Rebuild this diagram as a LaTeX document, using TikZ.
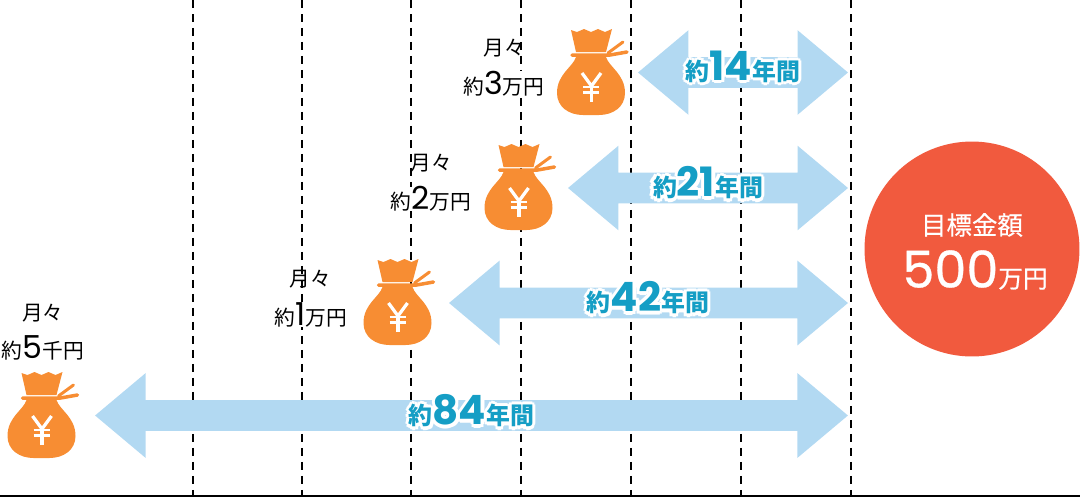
\documentclass[tikz,border=0pt]{standalone}
\usepackage{fontspec}
\setmainfont{Noto Sans CJK JP}
\newfontfamily\digitfont{Poppins}
\newfontfamily\heavydigit[FakeBold=0.6]{Poppins}
\newfontfamily\heavycjk[FakeBold=0.5]{Noto Sans CJK JP}
\usepackage{xcolor}
\usepackage{tikz}
\usetikzlibrary{arrows.meta, positioning, calc, shapes.arrows}
\definecolor{skyarrow}{HTML}{B2D9F2}
\definecolor{tealtext}{HTML}{159EC5}
\definecolor{bagorange}{HTML}{F78D33}
\definecolor{goalred}{HTML}{F15A3E}
\newcommand{\fsz}[1]{\fontsize{#1}{#1}\selectfont}
\newcommand{\halotext}[1]{\leavevmode\foreach \hx/\hy in {-1.8/0,1.8/0,0/-1.8,0/1.8,-1.3/-1.3,1.3/-1.3,-1.3/1.3,1.3/1.3}{\rlap{\hspace{\hx pt}\raisebox{\hy pt}{\color{white}#1}}}#1}
\newcommand{\spanlabel}[1]{\halotext{\bfseries\fsz{13.6}約{\digitfont\fsz{23}#1}年間}}
\newcommand{\paylabel}[2]{\fsz{11.8}約{\digitfont\fsz{18}#1}#2円}
\tikzset{
  moneybag/.pic={
    \fill[bagorange] (-20,-42) -- (-14,-40) -- (-7,-43) -- (0,-40) -- (7,-43) -- (14,-40) -- (21,-43) -- (15,-20) -- (-15,-20) -- cycle;
    \fill[bagorange] (-15,-15) -- (15,-15) .. controls (18,-5) and (34,2) .. (34,21) .. controls (34,35) and (22,43) .. (8,43) -- (-8,43) .. controls (-22,43) and (-34,35) .. (-34,21) .. controls (-34,2) and (-18,-5) .. (-15,-15) -- cycle;
    \draw[bagorange, line width=0.07cm, line cap=round] (-19,-17) -- (19,-17) -- (36,-20);
    \draw[bagorange, line width=0.06cm, line cap=round] (17,-19) -- (32,-30);
    \draw[white, line width=0.065cm] (-9,1) -- (0.5,14) -- (10,1);
    \draw[white, line width=0.065cm] (0.5,14) -- (0.5,30);
    \draw[white, line width=0.055cm] (-8,15) -- (8,15);
    \draw[white, line width=0.055cm] (-8,20.5) -- (8,20.5);
  }
}
\begin{document}
\begin{tikzpicture}[x=0.02cm, y=-0.02cm,
    spanarrow/.style={shape=double arrow, fill=skyarrow, inner xsep=0pt, inner ysep=0.3cm, minimum width=1.68cm, double arrow head extend=0.54cm, double arrow tip angle=80},
    spantext/.style={inner sep=0pt, text=tealtext},
    paytext/.style={inner sep=0pt, fill=white},
    monthtext/.style={inner sep=0pt, font=\fsz{11.8}}]
  \useasboundingbox (0,0) rectangle (1080,501);
  % year grid
  \foreach \gx in {193,302,411,521,631,741,851}
    \draw[black, line width=0.035cm, dash pattern=on 0.16cm off 0.12cm] (\gx,0) -- (\gx,496);
  \draw[black, line width=0.03cm] (0,496) -- (1080,496);
  % saving spans
  \node[spanarrow, minimum height=4.2cm] (spanA) at (743,72.5) {};
  \node[spanarrow, minimum height=5.6cm] (spanB) at (708,188) {};
  \node[spanarrow, minimum height=7.98cm] (spanC) at (648.5,303) {};
  \node[spanarrow, minimum height=15.06cm] (spanD) at (471.5,415.5) {};
  \node[spantext] (yearsA) at (743,67) {\spanlabel{14}};
  \node[spantext] (yearsB) at (708,183) {\spanlabel{21}};
  \node[spantext] (yearsC) at (648,298) {\spanlabel{42}};
  \node[spantext] (yearsD) at (471.5,411) {\spanlabel{84}};
  % bags
  \pic at (591,72) {moneybag};
  \pic at (518.5,187) {moneybag};
  \pic at (397.5,302) {moneybag};
  \pic at (41.5,415) {moneybag};
  % monthly amounts
  \node[monthtext] (monthA) at (504.5,48) {月々};
  \node[paytext] (payA) at (504,84) {\paylabel{3}{万}};
  \node[monthtext] (monthB) at (431.5,163) {月々};
  \node[paytext] (payB) at (431,199) {\paylabel{2}{万}};
  \node[monthtext] (monthC) at (310.5,279) {月々};
  \node[paytext] (payC) at (311,315) {\paylabel{1}{万}};
  \node[monthtext] (monthD) at (43,313) {月々};
  \node[paytext] (payD) at (43,348) {\paylabel{5}{千}};
  % goal
  \node[circle, fill=goalred, inner sep=0pt, minimum size=4.3cm] (goal) at (972,249) {};
  \node[inner sep=0pt, text=white, font=\fsz{14.5}\heavycjk] (goaltitle) at (972,225) {目標金額};
  \node[inner sep=0pt, text=white, font=\fsz{14}\heavycjk] (goalvalue) at (975,270) {{\heavydigit\fsz{29}500}万円};
\end{tikzpicture}
\end{document}
